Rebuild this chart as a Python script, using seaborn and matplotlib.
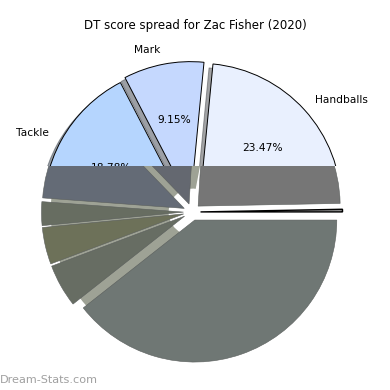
import matplotlib
matplotlib.use("Agg")
import matplotlib.pyplot as plt
import seaborn as sns

# Visible (upper) pie
top_labels = ["Handballs", "Mark", "Tackle", "Other"]
top_values = [23.47, 9.15, 18.78, 48.60]
top_colors = ["#e9f0fe", "#c5d8fe", "#b5d5fe", "#9fb6d6"]
top_explode = [0.07, 0.06, 0.05, 0.06]

# Lower part of the picture (no labels shown)
low_values = [0.3, 23.75, 13.2, 11.6, 2.7, 4.2, 4.9, 39.4]
low_colors = ["#8a8a8a", "#767676", "#646870", "#646b76", "#676d61", "#6d7159", "#676d63", "#6f7774"]
low_explode = [0.06] * 8

# light backing seen through the gaps on the left side only
back_values = [22, 60, 18]
back_colors = ["none", "#9ea295", "none"]

title = "DT score spread for Zac Fisher (2020)"
watermark = "Dream-Stats.com"

sns.set_style("white")
plt.rcParams["text.color"] = "black"

fig = plt.figure(figsize=(3.9, 3.9), dpi=100)
ax = fig.add_axes([0, 0, 1, 1])

scale = 142.0
cx, cy = 192, 212
split_y = (cy - 166) / scale

# lower pie
n0 = len(ax.patches)
ax.pie(back_values, colors=back_colors, radius=1.0, wedgeprops=dict(width=0.84))
low_wedges, _ = ax.pie(low_values, colors=low_colors, explode=low_explode,
                       wedgeprops=dict(linewidth=0.4, edgecolor="#5a5e5c"))
low_wedges[0].set_edgecolor("black")
low_wedges[0].set_linewidth(1.0)
low_clip = plt.Rectangle((-3, -3), 6, 3 + split_y, transform=ax.transData)
for p in ax.patches[n0:]:
    p.set_clip_on(True)
    p.set_clip_path(low_clip)

# upper pie with labels
n1 = len(ax.patches)
wedges, texts, autotexts = ax.pie(top_values, labels=top_labels, colors=top_colors,
                                  explode=top_explode, shadow=True, autopct="%1.2f%%",
                                  wedgeprops=dict(linewidth=0.7, edgecolor="black"),
                                  textprops=dict(fontsize=7.7, color="black"))
top_clip = plt.Rectangle((-3, split_y), 6, 3, transform=ax.transData)
for p in ax.patches[n1:]:
    p.set_clip_on(True)
    p.set_clip_path(top_clip)
for t in texts + autotexts:
    t.set_clip_on(True)
    t.set_clip_path(top_clip)

ax.set_xlim(-cx / scale, (390 - cx) / scale)
ax.set_ylim(-(390 - cy) / scale, cy / scale)
ax.axis("off")

fig.text(0.5, 1 - 25 / 390, title, ha="center", va="center", fontsize=8.5)
fig.text(0.0, 1 - 380 / 390, watermark, ha="left", va="center", fontsize=8.1, color="#a0a0a0")

fig.savefig("out.png", dpi=100)
